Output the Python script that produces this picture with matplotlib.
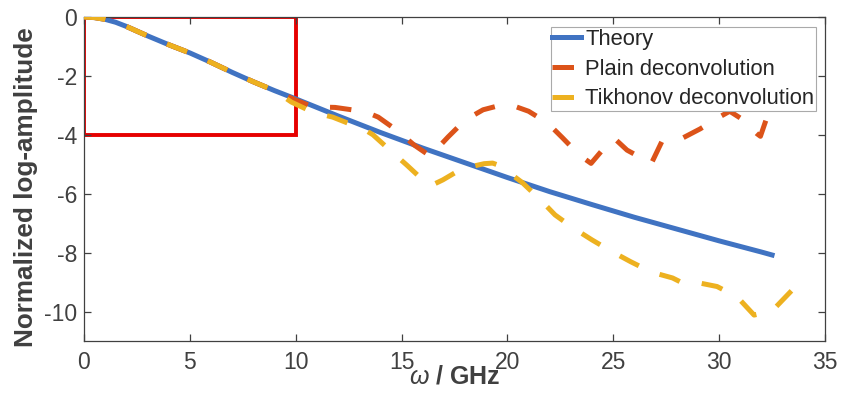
import matplotlib
matplotlib.use("Agg")
import matplotlib.pyplot as plt

plt.rcParams['font.family'] = ['Liberation Sans', 'DejaVu Sans']
plt.rcParams['axes.unicode_minus'] = False
plt.rcParams['mathtext.fontset'] = 'custom'
plt.rcParams['mathtext.it'] = 'Liberation Sans:italic'
plt.rcParams['mathtext.rm'] = 'Liberation Sans'

# ---- data ----
theory_x = [0, 0.5, 1, 1.5, 2, 2.5, 3, 4, 5, 6, 7, 8, 9, 10, 11, 12, 14, 16, 18,
            20, 22, 24, 26, 28, 30, 32, 32.5]
theory_y = [0, -0.02, -0.08, -0.18, -0.32, -0.48, -0.64, -0.94, -1.22, -1.54,
            -1.88, -2.2, -2.5, -2.78, -3.07, -3.36, -3.92, -4.45, -4.95,
            -5.45, -5.93, -6.37, -6.8, -7.2, -7.6, -7.98, -8.08]

plain_x = [0, 0.5, 1, 1.5, 2, 2.5, 3, 4, 5, 6, 7, 8, 9, 10, 10.8, 11.86, 12.94,
           13.4, 13.9, 14.8, 15.6, 16.35, 17.2, 18.0, 18.85, 19.7, 20.3, 21.0,
           21.9, 22.6, 23.4, 23.95, 24.8, 25.05, 25.65, 26.8, 27.3, 28.3, 29.1,
           30.1, 30.5, 31.0, 31.8, 31.95, 32.5]
plain_y = [0, -0.02, -0.08, -0.18, -0.32, -0.48, -0.64, -0.94, -1.22, -1.54,
           -1.88, -2.2, -2.5, -2.82, -3.05, -3.07, -3.18, -3.25, -3.4, -3.86,
           -4.35, -4.72, -4.07, -3.5, -3.15, -2.99, -3.02, -3.2, -3.6, -4.1,
           -4.69, -4.97, -4.25, -4.12, -4.52, -4.97, -4.22, -4.1, -3.8, -3.36,
           -3.2, -3.43, -3.97, -4.05, -2.9]

tikh_x = [0, 0.5, 1, 1.5, 2, 2.5, 3, 4, 5, 6, 7, 8, 9, 9.8, 10.8, 11.75, 12.7,
          13.2, 13.65, 14.45, 15.25, 16.0, 16.4, 16.95, 17.85, 18.9, 19.3,
          19.65, 20.7, 21.55, 22.25, 23.1, 24.0, 24.9, 25.8, 26.8, 27.8, 28.3,
          29.0, 29.9, 30.85, 31.65, 32.5, 33.45]
tikh_y = [0, -0.02, -0.08, -0.18, -0.32, -0.48, -0.64, -0.94, -1.22, -1.54,
          -1.88, -2.2, -2.5, -2.89, -3.23, -3.4, -3.67, -3.8, -4.0, -4.52,
          -5.03, -5.53, -5.72, -5.53, -5.15, -4.98, -4.96, -5.05, -5.62, -6.2,
          -6.72, -7.16, -7.57, -7.95, -8.3, -8.66, -8.86, -9.04, -9.02, -9.15,
          -9.5, -10.12, -9.98, -9.27]

box_x = [0, 10, 10, 0, 0]
box_y = [0, 0, -4, -4, 0]

series_labels = ['Theory', 'Plain deconvolution', 'Tikhonov deconvolution']
x_ticks = [0, 5, 10, 15, 20, 25, 30, 35]
y_ticks = [0, -2, -4, -6, -8, -10]

# ---- figure ----
W, H = 841, 395
fig = plt.figure(figsize=(W / 100, H / 100), dpi=100)
ax = fig.add_axes([84 / W, 1 - 341 / H, 741 / W, 324 / H])

ax.plot(box_x, box_y, color='#E60000', lw=2.8, zorder=1, solid_joinstyle='miter')

c_blue = '#4073C2'
c_orange = '#DC5319'
c_yellow = '#EDB120'
lw = 3.6
ax.plot(theory_x, theory_y, color=c_blue, lw=lw, label=series_labels[0], zorder=2)
ax.plot(plain_x, plain_y, color=c_orange, lw=lw, dashes=(4.3, 4.5),
        dash_capstyle='butt', label=series_labels[1], zorder=3)
ax.plot(tikh_x, tikh_y, color=c_yellow, lw=lw, dashes=(4.3, 4.5),
        dash_capstyle='butt', label=series_labels[2], zorder=4)

ax.set_xlim(0, 35)
ax.set_ylim(-11, 0)
ax.set_xticks(x_ticks)
ax.set_yticks(y_ticks)
ax.set_yticklabels([str(v) for v in y_ticks])

txt_c = '#404040'
for s in ax.spines.values():
    s.set_color('#404040')
    s.set_linewidth(0.9)
ax.tick_params(direction='in', length=5, width=0.9, top=True, right=True,
               colors='#404040', labelcolor=txt_c, labelsize=16.5)
ax.tick_params(axis='x', pad=7)
ax.tick_params(axis='y', pad=5)

ax.set_ylabel('Normalized log-amplitude', fontsize=18.8, fontweight='bold',
              color=txt_c)
ax.yaxis.set_label_coords((38 - 84) / 741, (341 - 187) / 324)
ax.set_xlabel(r'$\omega$ / GHz', fontsize=18, fontweight='bold', color=txt_c,
              va='baseline')
ax.xaxis.set_label_coords(0.5, (341 - 383) / 324)

leg = ax.legend(loc='upper right', bbox_to_anchor=((816 - 84) / 741, (341 - 27) / 324),
                borderaxespad=0, fontsize=15.8, handlelength=1.3,
                handletextpad=0.2, labelspacing=0.4, borderpad=0.08,
                fancybox=False, framealpha=1, edgecolor='#AAAAAA')
leg.get_frame().set_linewidth(0.8)
for t in leg.get_texts():
    t.set_color('#262626')
leg.set_zorder(10)

fig.savefig('out.png', dpi=100)
